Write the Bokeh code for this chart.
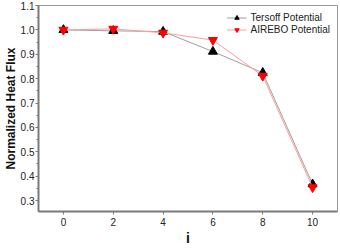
from bokeh.plotting import figure
from bokeh.models import Range1d, FixedTicker, Legend, LegendItem, PrintfTickFormatter
from bokeh.embed import file_html
from bokeh.resources import INLINE

i_vals = [0, 2, 4, 6, 8, 10]
tersoff = [1.0, 0.996, 0.993, 0.911, 0.824, 0.367]
airebo = [1.0, 1.004, 0.988, 0.958, 0.811, 0.354]
x_ticks = [0, 2, 4, 6, 8, 10]
y_ticks = [0.3, 0.4, 0.5, 0.6, 0.7, 0.8, 0.9, 1.0, 1.1]

p = figure(width=340, height=248, output_backend="svg", toolbar_location=None,
           x_range=Range1d(-1, 11), y_range=Range1d(0.255, 1.1),
           min_border_left=0, min_border_top=5, min_border_right=3, min_border_bottom=0)
p.background_fill_color = "white"
p.border_fill_color = "white"
p.outline_line_color = "#9a9a9a"
p.outline_line_width = 1
p.xgrid.visible = False
p.ygrid.visible = False

l1 = p.line(i_vals, tersoff, line_color="#a0a0a0", line_width=1)
m1 = p.scatter(i_vals, tersoff, marker="triangle", size=9, fill_color="black", line_color="black")
l2 = p.line(i_vals, airebo, line_color="#ff9c9c", line_width=1)
m2 = p.scatter(i_vals, airebo, marker="inverted_triangle", size=9, fill_color="red", line_color="red")

legend = Legend(items=[LegendItem(label="Tersoff Potential", renderers=[l1, m1]),
                       LegendItem(label="AIREBO Potential", renderers=[l2, m2])],
                location="top_right", border_line_color=None, background_fill_alpha=0,
                label_text_font="Liberation Sans", label_text_font_size="10px",
                label_text_color="#222222", glyph_width=20, glyph_height=11,
                label_height=11, spacing=1, padding=0, margin=7, label_standoff=4)
p.add_layout(legend)

for ax, ticks, minor in ((p.xaxis[0], x_ticks, []), (p.yaxis[0], y_ticks, [0.25 + 0.1 * k for k in range(9)])):
    ax.ticker = FixedTicker(ticks=ticks, minor_ticks=minor)
    ax.axis_line_color = "#7a7a7a"
    ax.axis_line_width = 2
    ax.major_tick_line_color = "#7a7a7a"
    ax.minor_tick_line_color = "#7a7a7a"
    ax.major_tick_out = 3
    ax.major_tick_in = 0
    ax.minor_tick_out = 2
    ax.minor_tick_in = 0
    ax.major_label_text_font = "Liberation Sans"
    ax.major_label_text_font_size = "10px"
    ax.major_label_text_color = "#222222"
    ax.axis_label_text_font = "Liberation Sans"
    ax.axis_label_text_font_style = "bold"
    ax.axis_label_text_color = "#111111"

p.yaxis[0].formatter = PrintfTickFormatter(format="%.1f")
p.yaxis[0].axis_label = "Normalized Heat Flux"
p.yaxis[0].axis_label_text_font_size = "12px"
p.yaxis[0].axis_label_standoff = 0
p.yaxis[0].major_label_standoff = 1
p.xaxis[0].axis_label = "i"
p.xaxis[0].axis_label_text_font_size = "14px"
p.xaxis[0].axis_label_standoff = 1
p.xaxis[0].major_label_standoff = 3

open("out.html", "w").write(file_html(p, INLINE))
